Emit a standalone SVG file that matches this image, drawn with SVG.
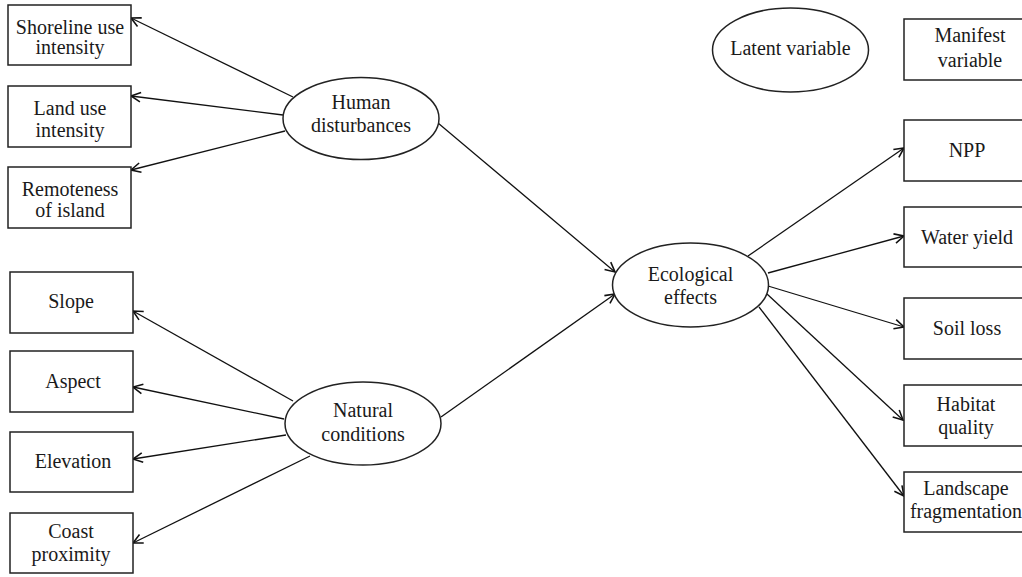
<svg xmlns="http://www.w3.org/2000/svg" width="1022" height="577" viewBox="0 0 1022 577">
<style>
.box{fill:#fff;stroke:#222;stroke-width:1.5}
.ell{fill:#fff;stroke:#222;stroke-width:1.5}
text{font-family:'Liberation Serif','DejaVu Serif',serif;font-size:20px;fill:#1a1a1a;text-anchor:middle}
.c{stroke:#111;stroke-width:1.3;fill:none;marker-end:url(#arr)}
</style>
<defs>
<marker id="arr" markerUnits="userSpaceOnUse" markerWidth="12" markerHeight="12" viewBox="0 0 10 10" refX="9" refY="5" orient="auto">
<path d="M1,1 L9,5 L1,9" fill="none" stroke="#111" stroke-width="1.3"/>
</marker>
</defs>
<rect width="1022" height="577" fill="#fff"/>
<g id="connectors">
<line class="c" x1="293" y1="97" x2="131" y2="18"/>
<line class="c" x1="283" y1="115" x2="131" y2="96"/>
<line class="c" x1="285" y1="131" x2="131" y2="170"/>
<line class="c" x1="438" y1="123" x2="615" y2="272"/>
<line class="c" x1="441" y1="417" x2="615" y2="294"/>
<line class="c" x1="293" y1="401" x2="133" y2="311"/>
<line class="c" x1="284" y1="419" x2="133" y2="387"/>
<line class="c" x1="286" y1="435" x2="133" y2="459"/>
<line class="c" x1="310" y1="456" x2="133" y2="543"/>
<line class="c" x1="748" y1="256" x2="904" y2="148"/>
<line class="c" x1="768" y1="273" x2="904" y2="236"/>
<line class="c" x1="768" y1="286" x2="904" y2="327"/>
<line class="c" x1="767" y1="294" x2="903" y2="420"/>
<line class="c" x1="759" y1="307" x2="904" y2="496"/>
</g>
<g id="human">
<ellipse class="ell" cx="361" cy="118.5" rx="78" ry="41"/>
<text x="361" y="109">Human</text>
<text x="361" y="132">disturbances</text>
</g>
<g id="natural">
<ellipse class="ell" cx="363" cy="423.5" rx="78" ry="41.5"/>
<text x="363" y="417">Natural</text>
<text x="363" y="441">conditions</text>
</g>
<g id="ecological">
<ellipse class="ell" cx="690.5" cy="285" rx="78" ry="42"/>
<text x="690.5" y="281">Ecological</text>
<text x="690.5" y="304">effects</text>
</g>
<g id="latent">
<ellipse class="ell" cx="790.5" cy="50" rx="78" ry="42"/>
<text x="790.5" y="55">Latent variable</text>
</g>
<g id="manifest">
<rect class="box" x="904" y="19" width="126" height="61"/>
<text x="970" y="42">Manifest</text>
<text x="970" y="67">variable</text>
</g>
<g id="shoreline">
<rect class="box" x="8" y="5" width="123" height="60"/>
<text x="70" y="34">Shoreline use</text>
<text x="70" y="54">intensity</text>
</g>
<g id="landuse">
<rect class="box" x="8" y="86" width="123" height="61"/>
<text x="70" y="115">Land use</text>
<text x="70" y="137">intensity</text>
</g>
<g id="remoteness">
<rect class="box" x="8" y="167" width="123" height="61"/>
<text x="70" y="196">Remoteness</text>
<text x="70" y="217">of island</text>
</g>
<g id="slope">
<rect class="box" x="10" y="272" width="123" height="61"/>
<text x="71" y="308">Slope</text>
</g>
<g id="aspect">
<rect class="box" x="10" y="351" width="123" height="61"/>
<text x="73" y="388">Aspect</text>
</g>
<g id="elevation">
<rect class="box" x="10" y="432" width="123" height="60"/>
<text x="73" y="468">Elevation</text>
</g>
<g id="coast">
<rect class="box" x="10" y="513" width="123" height="60"/>
<text x="71" y="538">Coast</text>
<text x="71" y="561">proximity</text>
</g>
<g id="npp">
<rect class="box" x="904" y="120" width="126" height="61"/>
<text x="967" y="157">NPP</text>
</g>
<g id="water">
<rect class="box" x="904" y="207" width="126" height="60"/>
<text x="967" y="244">Water yield</text>
</g>
<g id="soil">
<rect class="box" x="904" y="298" width="126" height="61"/>
<text x="967" y="335">Soil loss</text>
</g>
<g id="habitat">
<rect class="box" x="904" y="385" width="126" height="61"/>
<text x="966" y="411">Habitat</text>
<text x="966" y="434">quality</text>
</g>
<g id="landscape">
<rect class="box" x="904" y="472" width="126" height="60"/>
<text x="966" y="495">Landscape</text>
<text x="966" y="518">fragmentation</text>
</g>
</svg>
